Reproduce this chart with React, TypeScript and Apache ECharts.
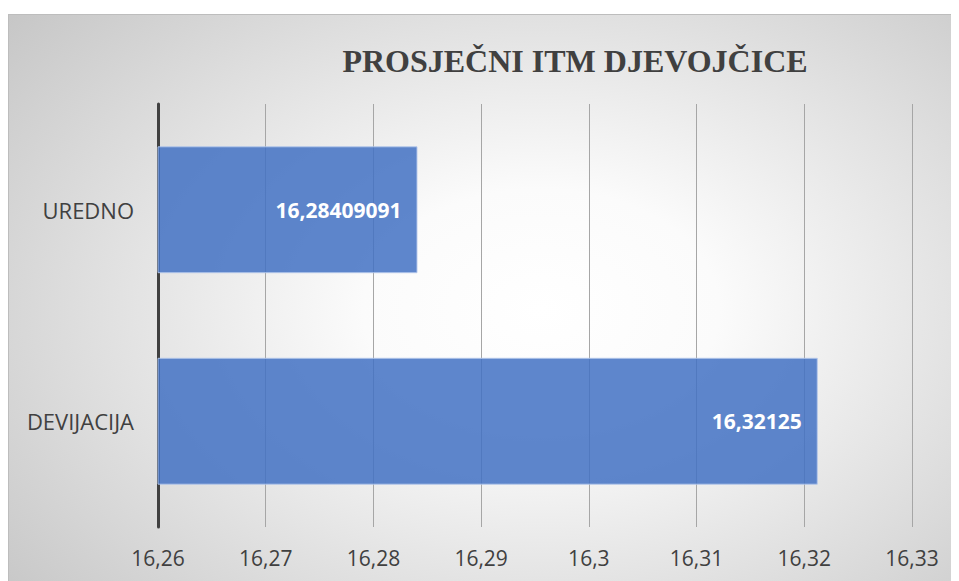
import React, { useEffect, useRef } from "react";
import * as echarts from "echarts";

const categories = ["UREDNO", "DEVIJACIJA"];
const values = [16.28409091, 16.32125];
const valueLabels = ["16,28409091", "16,32125"];
const titleText = "PROSJEČNI ITM DJEVOJČICE";
const axisMin = 16.26;
const axisMax = 16.33;
const axisStep = 0.01;

export default function App() {
  const ref = useRef<HTMLDivElement>(null);
  useEffect(() => {
    if (!ref.current) return;
    const chart = echarts.init(ref.current, undefined, { renderer: "svg" });
    chart.setOption({
      animation: false,
      backgroundColor: "transparent",
      graphic: [
        {
          type: "text",
          x: 566,
          y: 46,
          style: {
            text: titleText,
            textAlign: "center",
            textVerticalAlign: "middle",
            fontFamily: "Liberation Serif",
            fontWeight: "bold",
            fontSize: 32,
            fill: "#404040",
          },
        },
      ],
      grid: { left: 149, right: 47, top: 89, bottom: 54, containLabel: false },
      xAxis: {
        type: "value",
        min: axisMin,
        max: axisMax,
        interval: axisStep,
        axisLine: { show: false },
        axisTick: { show: false },
        axisLabel: {
          margin: 20,
          fontSize: 21,
          fontFamily: "Open Sans",
          color: "#404040",
          formatter: (v: number) => String(Math.round(v * 100) / 100).replace(".", ","),
        },
        splitLine: { show: true, lineStyle: { color: "#a6a6a6", width: 1 } },
      },
      yAxis: {
        type: "category",
        data: categories,
        inverse: true,
        axisLine: { show: true, lineStyle: { color: "#404040", width: 3 } },
        axisTick: { show: false },
        axisLabel: {
          margin: 24,
          fontSize: 22,
          fontFamily: "Open Sans",
          color: "#404040",
        },
      },
      series: [
        {
          type: "bar",
          data: values,
          barCategoryGap: "40%",
          itemStyle: {
            color: "rgba(68,114,196,0.86)",
            borderColor: "rgba(180,200,235,0.9)",
            borderWidth: 1,
          },
          label: {
            show: true,
            position: "insideRight",
            distance: 16,
            color: "#ffffff",
            fontWeight: "bold",
            fontSize: 21,
            fontFamily: "Open Sans",
            formatter: (p: any) => valueLabels[p.dataIndex],
          },
        },
      ],
    });
    return () => chart.dispose();
  }, []);
  return (
    <div
      ref={ref}
      style={{
        width: 951,
        height: 567,
        marginTop: 6,
        boxSizing: "border-box",
        borderTop: "1px solid #bdbdbd",
        borderLeft: "1px solid #bdbdbd",
        background:
          "radial-gradient(ellipse 75% 85% at 56% 52%, #ffffff 0%, #fbfbfb 25%, #c4c4c4 100%)",
      }}
    />
  );
}
